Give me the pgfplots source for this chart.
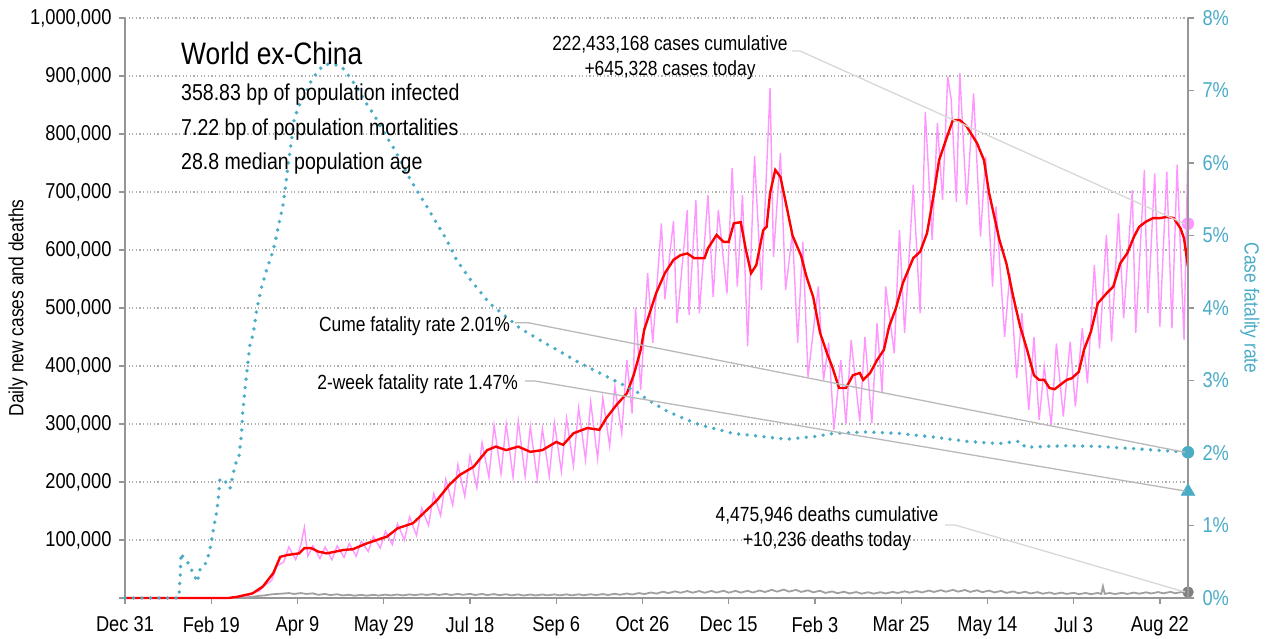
\documentclass[border=0pt]{standalone}
\usepackage{pgfplots}
\pgfplotsset{compat=1.18}
\usepackage{fontspec}
\setmainfont{Liberation Sans}[FakeStretch=0.85]
\definecolor{tealc}{RGB}{75,172,198}
\definecolor{pinkc}{RGB}{255,150,255}
\definecolor{axgray}{RGB}{150,150,150}
\definecolor{gridgray}{RGB}{175,175,175}
\definecolor{deathgray}{RGB}{160,160,160}
\definecolor{conn}{RGB}{185,185,185}
\definecolor{connl}{RGB}{215,215,215}
\newcommand{\tickfont}{\fontsize{21.5bp}{25bp}\selectfont}
\newcommand{\annfont}{\fontsize{20.5bp}{25bp}\selectfont}
\newcommand{\statfont}{\fontsize{23bp}{27bp}\selectfont}
\begin{document}
\begin{tikzpicture}
\begin{axis}[
  scale only axis, width=1063bp, height=580bp,
  xmin=0, xmax=616.3, ymin=0, ymax=1000,
  axis x line*=bottom, axis y line*=left,
  axis line style={axgray, line width=1.3bp},
  xtick={0,50,100,150,200,250,300,350,400,450,500,550,600},
  xticklabels={Dec 31,Feb 19,Apr 9,May 29,Jul 18,Sep 6,Oct 26,Dec 15,Feb 3,Mar 25,May 14,Jul 3,Aug 22},
  ytick={0,100,200,300,400,500,600,700,800,900,1000},
  yticklabels={{},{100,000},{200,000},{300,000},{400,000},{500,000},{600,000},{700,000},{800,000},{900,000},{1,000,000}},
  tick style={axgray, line width=1.3bp},
  major tick length=6bp, tick align=outside,
  ymajorgrids, grid style={gridgray, dash pattern=on 1.2bp off 2.4bp, line width=1.1bp},
  ticklabel style={font=\tickfont, text=black},
  xticklabel style={yshift=-9bp},
  yticklabel style={xshift=-4bp},
  clip=false,
]
% daily deaths (thousands)
\addplot[deathgray, line width=1.8bp] coordinates {
(0,0)(60,0)(66,0.3)(70,1)(74,2)(77,3.5)(81,4.5)(84,6)(88,7)(91,7.5)(95,8.5)(98,7)(102,8.5)(105,7)(109,8)(112,5.5)(116,7)(119,5)(123,6.5)(126,4.5)(130,5.5)(133,4)(137,5.5)(140,4)(144,5.5)(147,4.2)(151,5.8)(154,4.5)(158,6)(161,4.5)(165,6.2)(168,5)(172,6.5)(175,5.2)(179,7)(182,5.2)(186,7)(189,5.2)(193,7)(196,5.5)(200,7.2)(203,5.2)(207,7)(210,5)(214,6.8)(217,4.8)(221,6.5)(224,4.6)(228,6.2)(231,4.3)(235,6)(238,4.4)(242,6)(245,4.6)(249,6.2)(252,4.6)(256,6.3)(259,4.6)(263,6.3)(266,4.8)(270,6.5)(273,5)(277,6.8)(280,5.2)(284,7.2)(287,5.6)(291,7.8)(294,6)(298,8.5)(301,6.8)(305,9.5)(308,7.6)(312,10.8)(315,8.5)(319,11.5)(322,9)(326,12)(329,9.2)(333,12)(336,9)(340,12.2)(343,9.4)(347,12.5)(350,9.2)(354,12.3)(357,9.3)(361,12.5)(364,9.5)(368,13)(371,10.3)(375,14)(378,11)(382,14.5)(385,11)(389,14)(392,10.5)(396,13.2)(399,9.8)(403,12.5)(406,8.8)(410,11.3)(413,8.3)(417,10.8)(420,7.8)(424,10.3)(427,7.5)(431,10)(434,7.5)(438,10)(441,7.8)(445,10.5)(448,8.6)(452,11.5)(455,9.2)(459,12)(462,9.6)(466,12.8)(469,10.4)(473,13.5)(476,10.8)(480,14)(483,11)(487,13.8)(490,10.5)(494,13.3)(497,10)(501,12.8)(504,9.6)(508,12.2)(511,8.8)(515,11.3)(518,8.3)(522,10.8)(525,7.8)(529,10.2)(532,7.4)(536,9.6)(539,7)(543,9.2)(546,7)(550,9)(553,6.6)(557,8.7)(560,6.6)(564,8.7)(566,7)(567,20)(568,7.2)(571,8.6)(574,6.8)(578,9)(581,7)(585,9.3)(588,7.4)(592,9.8)(595,7.8)(599,10.2)(602,8)(606,10.5)(609,8.2)(613,10.6)(616,10.2)
};
% daily cases (thousands)
\addplot[pinkc, line width=1.4bp] coordinates {
(0,0)(62,0)(64,1)(67,3)(71,4)(74,9)(78,12)(81,22)(85,30)(88,55)(92,62)(95,88)(99,66)(102,92)(104,122)(106,72)(109,90)(113,68)(116,88)(120,66)(123,90)(127,70)(130,94)(134,72)(137,98)(141,80)(144,106)(148,86)(151,115)(155,92)(158,128)(162,100)(165,140)(169,108)(172,155)(176,125)(179,180)(183,142)(186,205)(190,160)(193,230)(197,175)(200,245)(204,190)(207,268)(211,208)(214,298)(218,214)(221,300)(225,208)(228,305)(232,210)(235,296)(239,205)(242,292)(246,210)(249,302)(253,218)(256,310)(260,228)(263,328)(267,238)(270,338)(274,240)(277,345)(281,262)(284,365)(288,284)(291,410)(294,318)(296,500)(299,359)(303,560)(306,440)(311,646)(313,515)(318,650)(320,474)(326,669)(327,488)(331,686)(333,491)(338,695)(341,519)(344,669)(349,525)(352,741)(355,537)(358,695)(361,434)(365,762)(369,531)(374,879)(376,588)(380,767)(383,531)(387,629)(390,440)(393,614)(396,381)(402,537)(405,376)(408,440)(411,290)(415,410)(418,300)(421,445)(426,304)(429,450)(433,301)(436,474)(439,353)(441,537)(446,422)(449,634)(452,457)(457,712)(461,491)(464,838)(468,617)(471,819)(474,686)(477,899)(479,860)(482,683)(484,905)(488,678)(492,870)(496,623)(499,761)(503,537)(505,675)(510,450)(513,560)(517,379)(520,491)(524,324)(527,450)(530,307)(533,399)(537,298)(540,439)(544,313)(548,442)(551,330)(555,465)(558,370)(562,574)(565,430)(569,626)(572,442)(576,663)(579,482)(584,703)(586,457)(591,738)(593,491)(597,732)(600,468)(604,735)(607,465)(610,747)(614,445)(616,739)
};
% 7-day average (thousands)
\addplot[red, line width=2.4bp] coordinates {
(0,0)(60,0)(65,2)(74,8)(80,20)(86,43)(90,71)(94,74)(101,77)(104,86)(108,86)(112,80)(117,77)(127,83)(132,84)(140,94)(146,100)(152,106)(158,120)(167,129)(173,146)(181,169)(188,195)(194,212)(202,226)(210,255)(215,261)(221,255)(228,261)(235,252)(242,255)(250,269)(254,264)(260,284)(268,293)(275,290)(279,310)(285,333)(291,353)(295,385)(299,428)(301,462)(308,526)(313,560)(318,583)(322,591)(326,594)(330,586)(336,586)(338,603)(343,626)(347,614)(350,614)(353,646)(357,648)(360,600)(363,560)(366,574)(370,634)(372,640)(374,698)(377,738)(380,726)(384,669)(387,625)(392,590)(395,555)(399,519)(403,457)(407,422)(410,399)(414,362)(418,362)(422,384)(426,388)(428,376)(432,388)(436,410)(440,428)(443,468)(447,500)(451,543)(457,586)(461,597)(465,629)(469,698)(472,755)(476,790)(480,824)(484,824)(488,813)(494,784)(498,755)(501,698)(507,617)(511,577)(515,519)(519,468)(523,428)(527,384)(530,376)(533,376)(536,362)(539,360)(542,367)(546,376)(549,379)(553,390)(556,428)(560,459)(564,508)(569,525)(573,537)(577,577)(581,594)(585,623)(588,640)(592,649)(596,655)(600,655)(604,657)(608,655)(612,637)(614,620)(615.5,588)(616,603)
};
\addplot[only marks, mark=*, mark size=6bp, mark options={fill=pinkc, draw=pinkc}] coordinates {(616.3,645.328)};
\addplot[only marks, mark=*, mark size=5.5bp, mark options={fill=gray, draw=gray}] coordinates {(616.3,10.236)};
\end{axis}
\begin{axis}[
  scale only axis, width=1063bp, height=580bp,
  xmin=0, xmax=616.3, ymin=0, ymax=8,
  axis x line=none, axis y line*=right,
  axis line style={axgray, line width=1.3bp},
  ytick={0,1,2,3,4,5,6,7,8},
  yticklabels={0\%,1\%,2\%,3\%,4\%,5\%,6\%,7\%,8\%},
  tick style={axgray, line width=1.3bp},
  major tick length=6bp, tick align=outside,
  ticklabel style={font=\tickfont, text=tealc},
  yticklabel style={xshift=5bp},
  clip=false,
]
\addplot[tealc, line width=3.8bp, line cap=round, dash pattern=on 0bp off 8.5bp] coordinates {
(0,0)(31,0)(31.5,0.1)(32,0.3)(32.5,0.62)(34,0.55)(36.7,0.48)(39.6,0.34)(41.9,0.22)(43.5,0.39)(45,0.41)(47.7,0.52)(49.6,0.71)(51.2,0.94)(53,1.17)(54,1.35)(55,1.63)(57,1.65)(59,1.58)(60.9,1.51)(62.8,1.72)(64.7,1.9)(66,1.94)(67.6,2.27)(68.2,2.55)(69,2.75)(71,3.2)(72.5,3.5)(74.4,3.65)(76.3,3.97)(79.2,4.29)(82,4.52)(86,4.8)(88.9,5.12)(91.8,5.44)(93.3,5.72)(94.7,6.0)(96.6,6.32)(97.6,6.55)(100.5,6.78)(103.4,6.89)(107.2,7.10)(111,7.24)(115,7.35)(119.8,7.37)(125.6,7.33)(129.5,7.21)(134.3,7.05)(140,6.82)(145,6.64)(151.7,6.36)(156.5,6.18)(163.3,5.86)(169,5.63)(175,5.40)(180.7,5.17)(186.5,4.94)(192.3,4.66)(200,4.4)(205,4.25)(211.6,4.06)(221,3.88)(229,3.72)(244,3.51)(263.8,3.24)(283,3.01)(298.6,2.82)(302,2.75)(314,2.58)(321.7,2.50)(333,2.39)(352.6,2.27)(372,2.22)(383.6,2.19)(401,2.23)(410.6,2.27)(430,2.29)(449,2.27)(468.6,2.22)(488,2.16)(507,2.13)(517,2.16)(520,2.15)(521.7,2.08)(546,2.10)(565,2.09)(584.5,2.06)(604,2.03)(616,2.01)
};
\addplot[only marks, mark=*, mark size=6bp, mark options={fill=tealc, draw=tealc}] coordinates {(616.3,2.01)};
\addplot[only marks, mark=triangle*, mark size=8bp, mark options={fill=tealc, draw=tealc}] coordinates {(616.3,1.47)};
\end{axis}
% connectors
\draw[connl, line width=1.3bp] (667bp,547bp) -- (675bp,547bp) -- (1060bp,374bp);
\draw[conn, line width=1.3bp] (390bp,275.3bp) -- (403bp,275.3bp) -- (1060bp,145.7bp);
\draw[conn, line width=1.3bp] (400bp,217bp) -- (410bp,217bp) -- (1060bp,107bp);
\draw[connl, line width=1.3bp] (820bp,73bp) -- (830bp,73bp) -- (1060bp,6bp);
% texts
\node[anchor=base west, inner sep=0, font=\fontsize{31bp}{36bp}\selectfont] at (56bp,533bp) {World ex-China};
\node[anchor=base west, inner sep=0, font=\statfont] at (56bp,497bp) {358.83 bp of population infected};
\node[anchor=base west, inner sep=0, font=\statfont] at (56bp,462bp) {7.22 bp of population mortalities};
\node[anchor=base west, inner sep=0, font=\statfont] at (56bp,428bp) {28.8 median population age};
\node[anchor=base, inner sep=0, font=\annfont] at (545bp,547bp) {222,433,168 cases cumulative};
\node[anchor=base, inner sep=0, font=\annfont] at (545bp,522bp) {+645,328 cases today};
\node[anchor=base east, inner sep=0, font=\annfont] at (385bp,266bp) {Cume fatality rate 2.01\%};
\node[anchor=base east, inner sep=0, font=\annfont] at (393bp,208bp) {2-week fatality rate 1.47\%};
\node[anchor=base, inner sep=0, font=\annfont] at (702bp,76bp) {4,475,946 deaths cumulative};
\node[anchor=base, inner sep=0, font=\annfont] at (702bp,51bp) {+10,236 deaths today};
\node[rotate=90, inner sep=0, font=\annfont] at (-107bp,290bp) {Daily new cases and deaths};
\node[rotate=-90, inner sep=0, font=\annfont, text=tealc] at (1125bp,290bp) {Case fatality rate};
\pgfresetboundingbox
\path[use as bounding box] (-125bp,-41bp) rectangle (1143bp,598bp);
\end{tikzpicture}
\end{document}
